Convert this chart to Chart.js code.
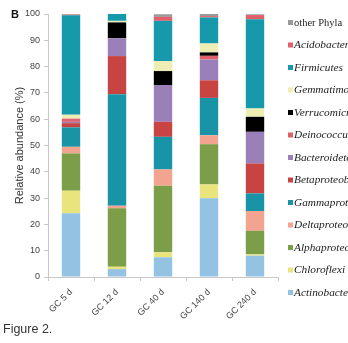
<!DOCTYPE html>
<html>
<head>
<meta charset="utf-8">
<script src="https://cdn.jsdelivr.net/npm/chart.js@4.4.1/dist/chart.umd.min.js"></script>
<style>
  html, body { margin: 0; padding: 0; background: #fff; }
  #wrap { position: relative; width: 348px; height: 343px; overflow: hidden; }
  #panel { position: absolute; left: 11px; top: 8px; font: bold 11px "Liberation Sans", Arial, sans-serif; color: #111; }
  #caption { position: absolute; left: 3px; top: 322px; font: 12.5px "Liberation Sans", Arial, sans-serif; color: #333; }
</style>
</head>
<body>
<div id="wrap">
  <canvas id="chart" width="348" height="343"></canvas>
  <div id="panel">B</div>
  <div id="caption">Figure 2.</div>
</div>
<script>
// samples (x axis)
const samples = ["GC 5 d", "GC 12 d", "GC 40 d", "GC 140 d", "GC 240 d"];

// relative abundance (%) per phylum, bottom of stack first
const actinobacteria      = [24.2,  3.0,  7.5, 29.9,  8.1];
const chloroflexi         = [ 8.6,  0.9,  1.9,  5.3,  0.5];
const alphaproteobacteria = [14.2, 22.2, 25.3, 15.3,  9.0];
const deltaproteobacteria = [ 2.5,  1.0,  6.2,  3.4,  7.5];
const gammaproteobacteria = [ 7.4, 42.4, 12.4, 14.2,  6.7];
const betaproteobacteria  = [ 1.6, 14.5,  5.7,  6.7, 11.4];
const bacteroidetes       = [ 0.5,  6.8, 14.0,  7.9, 12.0];
const deinococcus         = [ 1.2,  0.0,  0.0,  1.4,  0.0];
const verrucomicrobia     = [ 0.0,  6.0,  5.3,  1.3,  5.7];
const gemmatimonadetes    = [ 1.5,  0.6,  3.8,  3.4,  3.2];
const firmicutes          = [37.8,  2.6, 15.3,  9.9, 33.9];
const acidobacteria       = [ 0.3,  0.0,  1.5,  0.5,  1.6];
const otherPhyla          = [ 0.2,  0.0,  1.0,  0.8,  0.3];

const yTicks = [0, 10, 20, 30, 40, 50, 60, 70, 80, 90, 100];

const series = [
  { label: "Actinobacteria", data: actinobacteria, color: "#93c2e2", italic: true },
  { label: "Chloroflexi", data: chloroflexi, color: "#e9e47c", italic: true },
  { label: "Alphaproteobacteria", data: alphaproteobacteria, color: "#7d9e48", italic: true },
  { label: "Deltaproteobacteria", data: deltaproteobacteria, color: "#f3a491", italic: true },
  { label: "Gammaproteobacteria", data: gammaproteobacteria, color: "#1894a6", italic: true },
  { label: "Betaproteobacteria", data: betaproteobacteria, color: "#c74442", italic: true },
  { label: "Bacteroidetes", data: bacteroidetes, color: "#9a7fb9", italic: true },
  { label: "Deinococcus-Thermus", data: deinococcus, color: "#e0616b", italic: true },
  { label: "Verrucomicrobia", data: verrucomicrobia, color: "#000000", italic: true },
  { label: "Gemmatimonadetes", data: gemmatimonadetes, color: "#eeeeb4", italic: true },
  { label: "Firmicutes", data: firmicutes, color: "#1699aa", italic: true },
  { label: "Acidobacteria", data: acidobacteria, color: "#e0616b", italic: true },
  { label: "other Phyla", data: otherPhyla, color: "#999999", italic: false }
];

// legend on the right, drawn top to bottom in reverse stack order
const sideLegend = {
  id: "sideLegend",
  afterDraw(chart) {
    const ctx = chart.ctx;
    ctx.save();
    ctx.textBaseline = "middle";
    ctx.textAlign = "left";
    const items = chart.data.datasets.slice().reverse();
    items.forEach((ds, i) => {
      const y = 23 + i * 22.5;
      ctx.fillStyle = ds.backgroundColor;
      ctx.fillRect(288, y - 3, 5, 5);
      ctx.fillStyle = "#222";
      ctx.font = ds.italic
        ? "italic 11.3px 'Liberation Serif', 'DejaVu Serif', serif"
        : "10.5px 'Liberation Serif', 'DejaVu Serif', serif";
      ctx.fillText(ds.label, 294, y);
    });
    ctx.restore();
  }
};

new Chart(document.getElementById("chart"), {
  type: "bar",
  data: {
    labels: samples,
    datasets: series.map(s => ({
      label: s.label,
      data: s.data,
      backgroundColor: s.color,
      italic: s.italic,
      borderWidth: 0,
      barPercentage: 0.4,
      categoryPercentage: 1
    }))
  },
  options: {
    responsive: false,
    animation: false,
    devicePixelRatio: 1,
    layout: { padding: { left: 0, top: 14, right: 70, bottom: 16 } },
    plugins: {
      legend: { display: false },
      tooltip: { enabled: false }
    },
    scales: {
      x: {
        stacked: true,
        grid: { display: true, drawOnChartArea: false, drawTicks: true, tickLength: 4, color: "#c8c8c8", offset: true },
        border: { display: true, color: "#c8c8c8" },
        ticks: {
          minRotation: 45,
          maxRotation: 45,
          padding: 6,
          color: "#444",
          font: { family: "'Liberation Sans', Arial, sans-serif", size: 9 }
        },
        afterFit(scale) { scale.height = 50; }
      },
      y: {
        stacked: true,
        min: 0,
        max: 100,
        afterBuildTicks(scale) { scale.ticks = yTicks.map(v => ({ value: v })); },
        grid: { display: true, drawOnChartArea: false, drawTicks: true, tickLength: 4, color: "#c8c8c8" },
        border: { display: true, color: "#c8c8c8" },
        ticks: {
          padding: 4,
          color: "#444",
          font: { family: "'Liberation Sans', Arial, sans-serif", size: 9 }
        },
        title: {
          display: true,
          text: "Relative abundance (%)",
          color: "#333",
          padding: { top: 13, bottom: 0 },
          font: { family: "'Liberation Sans', Arial, sans-serif", size: 11 }
        },
        afterFit(scale) { scale.width = 48; }
      }
    }
  },
  plugins: [sideLegend]
});
</script>
</body>
</html>
